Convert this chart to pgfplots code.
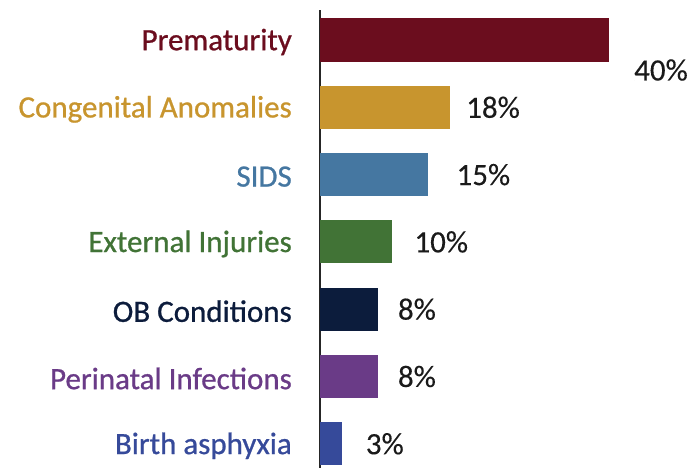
\documentclass[border=0pt]{standalone}
\usepackage{pgfplots}
\pgfplotsset{compat=1.18}
\usepackage{fontspec}
\setmainfont{Carlito}
\newfontfamily\labelfont{Carlito}[FakeBold=0.8]
\newfontfamily\numfont{Carlito}[FakeBold=0.3]
\definecolor{c1}{HTML}{6B0D1E}
\definecolor{c2}{HTML}{C8952E}
\definecolor{c3}{HTML}{4577A1}
\definecolor{c4}{HTML}{417336}
\definecolor{c5}{HTML}{0C1C3C}
\definecolor{c6}{HTML}{6A3B87}
\definecolor{c7}{HTML}{364A9A}
\definecolor{txt}{HTML}{1A1A1A}
\begin{document}
\begin{tikzpicture}
\useasboundingbox (0,0) rectangle (692pt,468pt);
\begin{axis}[
  at={(320pt,0pt)}, anchor=south west,
  scale only axis, width=289pt, height=458pt,
  xmin=0, xmax=40, ymin=-0.446, ymax=6.36,
  y dir=reverse,
  axis x line=none, axis y line*=left,
  axis line style={-, line width=1.3pt, color=black!85},
  xbar, bar width=0.64, bar shift=0pt,
  ytick={0,1,2,3,4,5,6},
  yticklabels={\textcolor{c1}{Prematurity},\textcolor{c2}{Congenital Anomalies},\textcolor{c3}{SIDS},\textcolor{c4}{External Injuries},\textcolor{c5}{OB Conditions},\textcolor{c6}{Perinatal Infections},\textcolor{c7}{Birth asphyxia}},
  major tick length=0pt,
  yticklabel style={font=\labelfont\fontsize{31}{31}\selectfont, inner sep=0pt, anchor=east, xshift=-28pt, yshift=-2pt},
  point meta=x,
  nodes near coords={\pgfmathprintnumber[assume math mode=true]{\pgfplotspointmeta}\%},
  every node near coord/.append style={font=\numfont\fontsize{31}{31}\selectfont, color=txt, anchor=west, inner sep=0pt, xshift=20pt},
]
\addplot[fill=c1, draw=none, every node near coord/.append style={xshift=5pt, yshift=-30pt}] coordinates {(40,0)};
\addplot[fill=c2, draw=none, every node near coord/.append style={xshift=-4pt}] coordinates {(18,1)};
\addplot[fill=c3, draw=none, every node near coord/.append style={xshift=8pt}] coordinates {(15,2)};
\addplot[fill=c4, draw=none, every node near coord/.append style={xshift=2pt}] coordinates {(10,3)};
\addplot[fill=c5, draw=none] coordinates {(8,4)};
\addplot[fill=c6, draw=none] coordinates {(8,5)};
\addplot[fill=c7, draw=none, every node near coord/.append style={xshift=4pt}] coordinates {(3,6)};
\end{axis}
\end{tikzpicture}
\end{document}
